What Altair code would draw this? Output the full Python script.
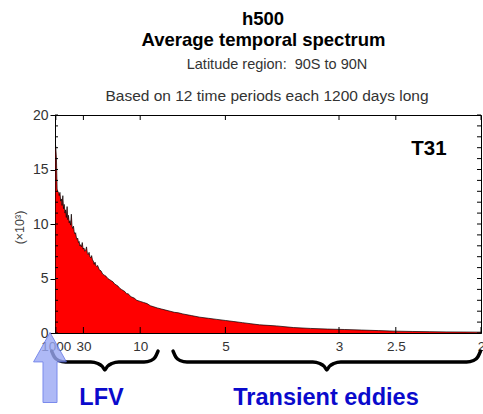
import altair as alt
import pandas as pd

# ---- data ----
freq = [0.0008, 0.0017, 0.0025, 0.0033, 0.0042, 0.005, 0.0058, 0.0067, 0.0075, 0.0083,
        0.0092, 0.01, 0.0108, 0.0117, 0.0125, 0.0133, 0.0142, 0.015, 0.0158, 0.0167,
        0.0175, 0.0183, 0.0192, 0.02, 0.0208, 0.0217, 0.0225, 0.0233, 0.0242, 0.025,
        0.0258, 0.0267, 0.0275, 0.0283, 0.0292, 0.03, 0.031, 0.032, 0.033, 0.034,
        0.035, 0.036, 0.037, 0.038, 0.039, 0.04, 0.041, 0.042, 0.043, 0.044,
        0.045, 0.046, 0.047, 0.048, 0.049, 0.05, 0.052, 0.054, 0.056, 0.058,
        0.06, 0.062, 0.064, 0.066, 0.068, 0.07, 0.072, 0.074, 0.076, 0.078,
        0.08, 0.082, 0.084, 0.086, 0.088, 0.09, 0.093, 0.096, 0.1, 0.104,
        0.108, 0.112, 0.116, 0.12, 0.125, 0.13, 0.135, 0.14, 0.145, 0.15,
        0.16, 0.17, 0.18, 0.19, 0.2, 0.21, 0.22, 0.23, 0.24, 0.25,
        0.26, 0.28, 0.3, 0.32, 0.34, 0.36, 0.38, 0.4, 0.42, 0.44,
        0.46, 0.48, 0.5]
power = [17.2, 16.0, 13.2, 13.0, 12.9, 12.6, 12.9, 12.1, 12.3, 11.7,
         12.6, 11.4, 11.8, 11.0, 11.3, 10.6, 11.6, 10.4, 10.8, 10.1,
         10.3, 9.9, 10.9, 9.8, 9.6, 9.8, 9.3, 9.1, 9.2, 8.8,
         8.6, 8.7, 8.3, 8.4, 8.0, 8.1, 7.9, 8.3, 7.7, 7.8,
         7.5, 7.6, 7.9, 7.3, 7.2, 7.4, 7.0, 6.9, 7.1, 6.7,
         6.6, 6.3, 6.5, 6.2, 6.1, 6.2, 5.8, 5.7, 5.4, 5.3,
         5.2, 5.0, 4.9, 4.8, 4.7, 4.5, 4.4, 4.3, 4.1, 4.0,
         3.9, 3.8, 3.6, 3.6, 3.4, 3.3, 3.2, 3.0, 2.9, 2.8,
         2.7, 2.5, 2.4, 2.3, 2.2, 2.1, 2.0, 1.9, 1.85, 1.75,
         1.6, 1.45, 1.35, 1.25, 1.15, 1.05, 0.95, 0.85, 0.75, 0.7,
         0.65, 0.5, 0.42, 0.36, 0.32, 0.27, 0.22, 0.17, 0.14, 0.12,
         0.1, 0.09, 0.08]
period_ticks = [1000, 30, 10, 5, 3, 2.5, 2]
y_ticks = [0, 5, 10, 15, 20]
y_minor = list(range(0, 21))

tick_freqs = [1.0 / p for p in period_ticks]

W, H = 426, 218
FONT = "Liberation Sans"
BLUE = "#0a0acc"

df = pd.DataFrame({"freq": freq, "power": power})
xs = alt.Scale(domain=[0, 0.5], nice=False, zero=False)
ys = alt.Scale(domain=[0, 20], nice=False)

x_axis = alt.Axis(
    values=tick_freqs, labelExpr="round(10/datum.value)/10", title=None,
    ticks=False, grid=False, domainColor="black", labelFontSize=13.5,
    labelPadding=6, labelFont=FONT, labelColor="#333", labelFlush=False,
    labelOverlap=False)
y_axis = alt.Axis(
    values=y_ticks, title="(×10³)", grid=False, tickSize=5, tickColor="black",
    domainColor="black", labelFontSize=14, labelPadding=2, labelFont=FONT,
    labelColor="#333", titleFont=FONT, titleFontSize=12.5, titleFontWeight="normal",
    titleColor="#444", titleX=-36, titleY=112, titleAlign="center",
    titleBaseline="middle")

area = alt.Chart(df).mark_area(
    color="#ff0000", opacity=1, line={"color": "black", "strokeWidth": 0.7}
).encode(
    x=alt.X("freq:Q", scale=xs, axis=x_axis, title=None),
    y=alt.Y("power:Q", scale=ys, axis=y_axis, title="(×10³)"),
)

ydf = pd.DataFrame({"power": y_minor})
xdf = pd.DataFrame({"freq": tick_freqs})
left_minor = alt.Chart(ydf).mark_rule(color="black", strokeWidth=1).encode(
    y=alt.Y("power:Q", scale=ys, axis=y_axis, title="(×10³)"),
    x=alt.value(0), x2=alt.value(3))
right_minor = alt.Chart(ydf).mark_rule(color="black", strokeWidth=1).encode(
    y=alt.Y("power:Q", scale=ys, axis=y_axis, title="(×10³)"),
    x=alt.value(W), x2=alt.value(W - 4))
top_ticks = alt.Chart(xdf).mark_rule(color="black", strokeWidth=1).encode(
    x=alt.X("freq:Q", scale=xs, axis=x_axis, title=None),
    y=alt.value(0), y2=alt.value(5))
bot_ticks = alt.Chart(xdf).mark_rule(color="black", strokeWidth=1).encode(
    x=alt.X("freq:Q", scale=xs, axis=x_axis, title=None),
    y=alt.value(H), y2=alt.value(H - 6))


def brace(a, b):
    # annotation geometry: a curly brace spanning frequencies a..b, drawn below the axis
    px = 852.0  # pixels per frequency unit
    c = (a + b) / 2
    h = 7 / px
    pts = [(a, 236), (a + 0.4 * h, 242), (a + h, 245.5), (a + 2 * h, 247),
           (c - 2 * h, 247), (c - h, 248.5), (c - 0.35 * h, 251.5), (c, 255),
           (c + 0.35 * h, 251.5), (c + h, 248.5), (c + 2 * h, 247),
           (b - 2 * h, 247), (b - h, 245.5), (b - 0.4 * h, 242), (b, 236)]
    return pd.DataFrame({"freq": [p[0] for p in pts], "by": [p[1] for p in pts],
                         "o": list(range(len(pts)))})


braces = []
for a, b in [(-0.004, 0.121), (0.1385, 0.4995)]:
    braces.append(alt.Chart(brace(a, b)).mark_line(
        color="black", strokeWidth=3.4, strokeCap="round", strokeJoin="round",
        interpolate="monotone", clip=False).encode(
        x=alt.X("freq:Q", scale=xs, axis=x_axis, title=None),
        y=alt.Y("by:Q", scale=None, axis=None),
        order="o:Q"))

one = pd.DataFrame({"a": [0]})
arrow_path = "M0,-1 L0.47,-0.16 L0.2,-0.16 L0.2,1 L-0.2,1 L-0.2,-0.16 L-0.47,-0.16 Z"
arrow = alt.Chart(one).mark_point(
    shape=arrow_path, size=4900, filled=True, fill="#9aa8f4", stroke="#5a6ee8",
    strokeWidth=1, opacity=0.8).encode(x=alt.value(-5), y=alt.value(252.5))


def txt(s, x, y, size, weight="normal", color="black"):
    return alt.Chart(one).mark_text(
        text=s, font=FONT, fontSize=size, fontWeight=weight, color=color,
        align="center", baseline="middle").encode(x=alt.value(x), y=alt.value(y))


texts = [
    txt("h500", 208, -96, 18.5, "bold"),
    txt("Average temporal spectrum", 208.5, -75, 18.5, "bold"),
    txt("Latitude region:\u00a0 90S to 90N", 222, -50, 14.5, color="#333"),
    txt("Based on 12 time periods each 1200 days long", 212, -19, 15.5, color="#333"),
    txt("T31", 374, 34, 20.5, "bold"),
    txt("LFV", 46.5, 283, 23.5, "bold", BLUE),
    txt("Transient eddies", 271, 283, 23.5, "bold", BLUE),
]

chart = alt.layer(area, left_minor, right_minor, top_ticks, bot_ticks, *braces, arrow, *texts).properties(
    width=W, height=H,
    autosize=alt.AutoSizeParams(type="none"),
    padding={"left": 55, "top": 115, "right": 2, "bottom": 81},
    background="white",
).configure_view(stroke="black", strokeWidth=1)

chart.save("out.html", embed_options={"renderer": "svg", "actions": False})
